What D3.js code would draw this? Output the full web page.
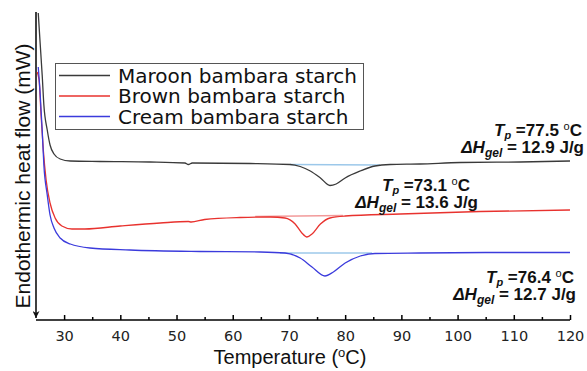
<!DOCTYPE html>
<html>
<head>
<meta charset="utf-8">
<script src="https://cdn.jsdelivr.net/npm/d3@7"></script>
<style>
  body { margin: 0; background: #fff; }
  svg { display: block; }
</style>
</head>
<body>
<svg id="svg" width="587" height="371"></svg>
<script>
// series names
var seriesNames = ["Maroon bambara starch", "Brown bambara starch", "Cream bambara starch"];
var seriesColors = ["#3a3a3a", "#e8322e", "#3b3bdc"];

// temperatures (oC) and heat flow (arbitrary mW)
var maroonT  = [25.4, 25.7, 26.1, 26.4, 27.0, 27.5, 28.2, 29.3, 31.1, 36.4, 45.3, 51.5, 52.1, 52.8, 63.1, 70.2, 72.0, 73.8, 75.6, 77.3, 78.4, 80.0, 82.7, 85.3, 88.0, 93.3, 100.5, 111.1, 120];
var maroonHF = [30.7, 28.0, 24.5, 21.5, 19.0, 17.5, 16.6, 16.1, 15.9, 15.85, 15.8, 15.7, 15.55, 15.7, 15.65, 15.55, 15.35, 14.9, 14.2, 13.45, 13.6, 14.2, 14.9, 15.4, 15.55, 15.6, 15.75, 15.8, 15.9];

var brownT  = [25.2, 25.55, 25.9, 26.3, 26.8, 27.5, 28.4, 29.6, 31.4, 33.7, 40.0, 47.1, 52.1, 52.6, 55.0, 61.3, 66.7, 69.3, 71.1, 72.3, 73.2, 74.1, 75.6, 77.3, 80.0, 89.8, 104.0, 120];
var brownHF = [24.8, 24.0, 20.5, 17.0, 14.0, 11.7, 10.2, 9.4, 9.1, 9.1, 9.4, 9.7, 9.85, 9.8, 10.05, 10.25, 10.3, 10.2, 9.6, 8.7, 8.3, 8.6, 9.6, 10.2, 10.4, 10.6, 10.85, 11.0];

var creamT  = [25.4, 25.7, 26.1, 26.4, 27.0, 27.5, 28.2, 29.3, 31.1, 34.6, 41.7, 54.2, 64.9, 69.3, 72.0, 74.1, 76.4, 77.9, 80.0, 82.7, 85.3, 93.3, 107.6, 120];
var creamHF = [25.3, 23.0, 19.0, 15.5, 12.5, 10.5, 9.2, 8.2, 7.6, 7.2, 7.0, 6.85, 6.8, 6.7, 6.2, 5.3, 4.4, 4.8, 5.7, 6.4, 6.65, 6.7, 6.75, 6.75];

// integration baselines under the peaks
var baseT  = [[70.2, 86.2], [64.0, 79.6], [68.4, 84.8]];
var baseHF = [[15.55, 15.5], [10.35, 10.45], [6.7, 6.7]];
var baseColors = ["#9cc8ea", "#f29a9a", "#9cc8ea"];

// peak labels
var peakTp = ["77.5", "73.1", "76.4"];
var peakDH = ["12.9", "13.6", "12.7"];

var majorTicks = [30, 40, 50, 60, 70, 80, 90, 100, 110, 120];
var minorTicks = [35, 45, 55, 65, 75, 85, 95, 105, 115];

var svg = d3.select("#svg");

var x = d3.scaleLinear().domain([25, 120]).range([36, 570]);
var y = d3.scaleLinear().domain([0, 30.8]).range([320, 12]);

// x axis, ticks pointing up
svg.append("g")
    .attr("transform", "translate(0,320)")
    .call(d3.axisBottom(x).tickValues(minorTicks).tickSize(-3).tickSizeOuter(0).tickFormat(""))
    .call(function(g){ g.select(".domain").remove(); })
    .selectAll("line").attr("stroke-width", 1.5);

var xAxis = svg.append("g")
    .attr("transform", "translate(0,320)")
    .call(d3.axisBottom(x).tickValues(majorTicks).tickSize(-5).tickSizeOuter(0).tickPadding(11));
xAxis.select(".domain").attr("stroke-width", 1.6).attr("d", "M36,0H570");
xAxis.selectAll("line").attr("stroke-width", 1.5);
xAxis.selectAll("text")
    .attr("font-family", "DejaVu Sans")
    .attr("font-size", 14.5)
    .attr("fill", "#222");

// y axis with down arrow
svg.append("defs").append("marker")
    .attr("id", "arrow")
    .attr("viewBox", "0 0 10 10")
    .attr("refX", 5).attr("refY", 10)
    .attr("markerWidth", 7).attr("markerHeight", 9)
    .attr("markerUnits", "userSpaceOnUse")
    .attr("orient", "0")
    .append("path")
    .attr("d", "M0,0L5,10L10,0L5,3Z")
    .attr("fill", "#111");

svg.append("line")
    .attr("x1", 36).attr("x2", 36)
    .attr("y1", 12).attr("y2", 318)
    .attr("stroke", "#111").attr("stroke-width", 1.6)
    .attr("marker-end", "url(#arrow)");

// curves
var line = d3.line()
    .x(function(d){ return x(d[0]); })
    .y(function(d){ return y(d[1]); })
    .curve(d3.curveMonotoneX);

var allT = [maroonT, brownT, creamT];
var allHF = [maroonHF, brownHF, creamHF];

// baselines first
for (let i = 0; i < 3; i++) {
    svg.append("line")
        .attr("x1", x(baseT[i][0])).attr("x2", x(baseT[i][1]))
        .attr("y1", y(baseHF[i][0])).attr("y2", y(baseHF[i][1]))
        .attr("stroke", baseColors[i]).attr("stroke-width", 1.4);
}

for (let i = 0; i < 3; i++) {
    var pts = d3.zip(allT[i], allHF[i]);
    svg.append("path")
        .datum(pts)
        .attr("d", line)
        .attr("fill", "none")
        .attr("stroke", seriesColors[i])
        .attr("stroke-width", 1.3);
}

// legend
var leg = svg.append("g");
leg.append("rect")
    .attr("x", 55.5).attr("y", 63.5)
    .attr("width", 308).attr("height", 66)
    .attr("fill", "#fff")
    .attr("stroke", "#555").attr("stroke-width", 1);
var rowY = [75.5, 96, 116.5];
for (let i = 0; i < 3; i++) {
    leg.append("line")
        .attr("x1", 59).attr("x2", 110)
        .attr("y1", rowY[i]).attr("y2", rowY[i])
        .attr("stroke", seriesColors[i]).attr("stroke-width", 1.3);
    leg.append("text")
        .attr("x", 118).attr("y", rowY[i] + 7)
        .attr("font-family", "DejaVu Sans")
        .attr("font-size", 20)
        .attr("fill", "#111")
        .text(seriesNames[i]);
}

// peak annotations
var annX = [582, 470, 574];
var annY = [136, 191, 283];
var annX2 = [584, 478, 576];
function annot(i) {
    var t1 = svg.append("text")
        .attr("x", annX[i]).attr("y", annY[i])
        .attr("text-anchor", "end")
        .attr("font-family", "Liberation Sans, Arial")
        .attr("font-weight", "bold")
        .attr("font-size", 17)
        .attr("fill", "#111");
    t1.append("tspan").attr("font-style", "italic").text("T");
    t1.append("tspan").attr("font-size", 11).attr("font-style", "italic").attr("dy", 3).text("p");
    t1.append("tspan").attr("dy", -3).text(" =" + peakTp[i] + " ");
    t1.append("tspan").attr("font-size", 11).attr("font-weight", "normal").attr("dy", -6).text("o");
    t1.append("tspan").attr("dy", 6).text("C");

    var t2 = svg.append("text")
        .attr("x", annX2[i]).attr("y", annY[i] + 16.5)
        .attr("text-anchor", "end")
        .attr("font-family", "Liberation Sans, Arial")
        .attr("font-weight", "bold")
        .attr("font-size", 17)
        .attr("fill", "#111");
    t2.append("tspan").attr("font-style", "italic").text("\u0394H");
    t2.append("tspan").attr("font-size", 12).attr("font-style", "italic").attr("dy", 4).text("gel");
    t2.append("tspan").attr("dy", -4).text(" = " + peakDH[i] + " J/g");
}
for (let i = 0; i < 3; i++) annot(i);

// axis titles
var xt = svg.append("text")
    .attr("x", 290).attr("y", 364)
    .attr("text-anchor", "middle")
    .attr("font-family", "Liberation Sans, Arial")
    .attr("font-size", 20)
    .attr("fill", "#111");
xt.append("tspan").text("Temperature (");
xt.append("tspan").attr("font-size", 13).attr("dy", -7).text("o");
xt.append("tspan").attr("dy", 7).text("C)");

svg.append("text")
    .attr("transform", "translate(30,176) rotate(-90)")
    .attr("text-anchor", "middle")
    .attr("font-family", "Liberation Sans, Arial")
    .attr("font-size", 21)
    .attr("fill", "#111")
    .text("Endothermic heat flow (mW)");
</script>
</body>
</html>
